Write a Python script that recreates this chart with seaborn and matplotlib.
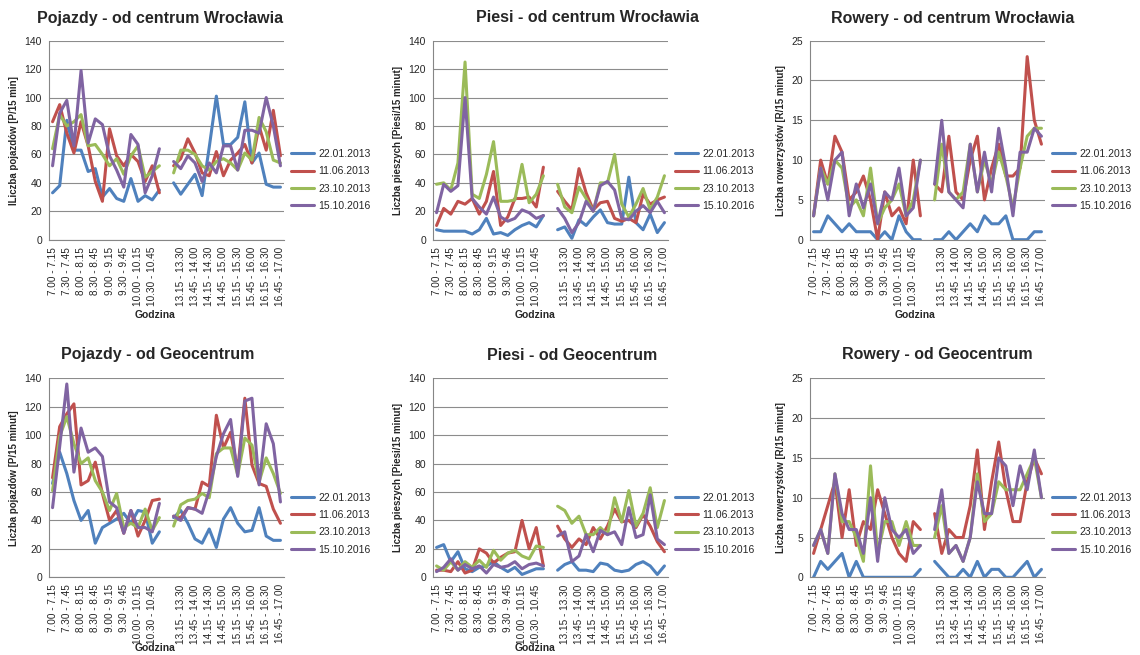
import numpy as np
import pandas as pd
import matplotlib
matplotlib.use('Agg')
import matplotlib.pyplot as plt
import seaborn as sns

daty = ['22.01.2013', '11.06.2013', '23.10.2013', '15.10.2016']
kolory = ['#4F81BD', '#C0504D', '#9BBB59', '#8064A2']

godz_rano = ['7.00 - 7.15', '7.15 - 7.30', '7.30 - 7.45', '7.45 - 8.00',
             '8.00 - 8.15', '8.15 - 8.30', '8.30 - 8.45', '8.45 - 9.00',
             '9.00 - 9.15', '9.15 - 9.30', '9.30 - 9.45', '9.45 - 10.00',
             '10.00 - 10.15', '10.15 - 10.30', '10.30 - 10.45', '10.45 - 11.00']
godz_popo = ['13.00 - 13.15', '13.15 - 13.30', '13.30 - 13.45', '13.45 - 14.00',
             '14.00 - 14.15', '14.15 - 14.30', '14.30 - 14.45', '14.45 - 15.00',
             '15.00 - 15.15', '15.15 - 15.30', '15.30 - 15.45', '15.45 - 16.00',
             '16.00 - 16.15', '16.15 - 16.30', '16.30 - 16.45', '16.45 - 17.00']

# pojazdy - od centrum (rano 16 + popoludnie 16)
poj_c_2201 = [33, 38, 84, 63, 63, 48, 50, 30, 36, 29, 27, 43, 27, 31, 28, 35,
              40, 32, 39, 46, 31, 65, 101, 67, 67, 72, 97, 54, 61, 39, 37, 37]
poj_c_1106 = [83, 95, 75, 61, 83, 66, 41, 27, 78, 59, 52, 60, 55, 41, 52, 33,
              52, 57, 71, 61, 47, 45, 62, 45, 56, 61, 67, 54, 80, 63, 91, 59]
poj_c_2310 = [64, 88, 80, 83, 88, 66, 67, 60, 52, 57, 46, 59, 66, 44, 48, 52,
              47, 63, 63, 60, 52, 49, 55, 57, 54, 49, 61, 56, 86, 76, 56, 54]
poj_c_1510 = [52, 89, 98, 66, 119, 68, 85, 81, 59, 49, 37, 74, 67, 33, 45, 64,
              55, 50, 59, 54, 41, 54, 47, 66, 66, 49, 77, 77, 75, 100, 80, 52]

# piesi - od centrum
pie_c_2201 = [7, 6, 6, 6, 6, 4, 7, 15, 4, 5, 3, 7, 10, 12, 9, 17,
              7, 9, 1, 14, 10, 16, 21, 12, 11, 11, 44, 12, 7, 18, 5, 12]
pie_c_1106 = [10, 22, 18, 27, 25, 29, 18, 27, 48, 10, 16, 29, 29, 30, 23, 51,
              34, 27, 21, 50, 33, 21, 26, 27, 15, 13, 15, 12, 32, 25, 28, 30]
pie_c_2310 = [39, 40, 35, 54, 125, 32, 29, 46, 69, 27, 27, 28, 53, 26, 32, 45,
              39, 23, 19, 37, 29, 20, 40, 40, 60, 25, 16, 25, 36, 21, 30, 45]
pie_c_1510 = [19, 39, 34, 38, 100, 29, 23, 18, 30, 16, 13, 15, 21, 19, 15, 17,
              22, 15, 5, 12, 27, 20, 38, 41, 35, 15, 14, 20, 24, 19, 27, 19]

# rowery - od centrum
row_c_2201 = [1, 1, 3, 2, 1, 2, 1, 1, 1, 0, 1, 0, 3, 1, 0, 0,
              0, 0, 1, 0, 1, 2, 1, 3, 2, 2, 3, 0, 0, 0, 1, 1]
row_c_1106 = [3, 10, 7, 13, 11, 5, 6, 8, 5, 0, 6, 3, 4, 2, 10, 3,
              7, 6, 13, 6, 5, 10, 13, 5, 9, 12, 8, 8, 9, 23, 15, 12]
row_c_2310 = [3, 9, 7, 10, 9, 4, 5, 3, 9, 2, 4, 5, 7, 3, 5, 10,
              5, 12, 6, 5, 6, 12, 6, 10, 7, 11, 8, 4, 9, 13, 14, 14]
row_c_1510 = [3, 9, 5, 10, 11, 3, 7, 4, 7, 2, 6, 5, 9, 3, 4, 10,
              7, 15, 6, 5, 4, 12, 6, 11, 6, 14, 9, 3, 11, 11, 14, 13]

# pojazdy - od Geocentrum
poj_g_2201 = [66, 88, 73, 54, 40, 47, 24, 35, 38, 41, 45, 38, 47, 46, 24, 32,
              42, 47, 38, 27, 24, 34, 21, 41, 49, 38, 32, 33, 49, 29, 26, 26]
poj_g_1106 = [70, 106, 115, 122, 65, 68, 81, 59, 40, 47, 31, 47, 29, 40, 54, 55,
              43, 42, 49, 48, 67, 64, 114, 91, 102, 75, 126, 79, 66, 64, 48, 38]
poj_g_2310 = [61, 99, 113, 94, 80, 84, 68, 60, 47, 59, 35, 38, 35, 48, 33, 42,
              36, 51, 54, 55, 59, 56, 87, 91, 91, 72, 98, 93, 67, 84, 73, 59]
poj_g_1510 = [49, 92, 136, 74, 105, 88, 91, 85, 53, 49, 31, 47, 35, 35, 32, 52,
              43, 40, 49, 48, 45, 61, 85, 101, 111, 71, 124, 126, 65, 108, 94, 53]

# piesi - od Geocentrum
pie_g_2201 = [21, 23, 11, 18, 6, 4, 7, 8, 11, 7, 4, 7, 2, 4, 6, 6,
              5, 9, 11, 5, 5, 4, 10, 9, 5, 4, 5, 9, 11, 8, 2, 8]
pie_g_1106 = [5, 5, 4, 11, 3, 5, 20, 17, 10, 14, 17, 18, 40, 20, 35, 8,
              36, 27, 21, 27, 23, 35, 27, 36, 48, 39, 40, 35, 44, 36, 25, 18]
pie_g_2310 = [8, 5, 11, 5, 11, 7, 12, 7, 19, 12, 17, 19, 15, 13, 22, 21,
              50, 47, 38, 43, 30, 30, 35, 30, 56, 39, 61, 36, 45, 63, 35, 54]
pie_g_1510 = [4, 7, 13, 5, 9, 6, 8, 3, 9, 7, 8, 11, 6, 9, 10, 8,
              29, 32, 11, 15, 30, 18, 33, 30, 32, 23, 49, 28, 30, 58, 27, 23]

# rowery - od Geocentrum
row_g_2201 = [0, 2, 1, 2, 3, 0, 2, 0, 0, 0, 0, 0, 0, 0, 0, 1,
              2, 1, 0, 0, 1, 0, 2, 0, 1, 1, 0, 0, 1, 2, 0, 1]
row_g_1106 = [3, 6, 9, 12, 5, 11, 4, 7, 6, 11, 8, 5, 3, 2, 7, 6,
              8, 3, 6, 5, 5, 9, 16, 6, 12, 17, 11, 7, 7, 12, 15, 13]
row_g_2310 = [4, 6, 3, 13, 7, 7, 5, 2, 14, 3, 7, 7, 4, 7, 4, 4,
              5, 9, 3, 4, 2, 5, 13, 7, 8, 12, 11, 11, 11, 13, 15, 10]
row_g_1510 = [4, 6, 3, 13, 8, 6, 6, 3, 10, 2, 10, 6, 5, 6, 3, 4,
              6, 11, 3, 4, 2, 5, 12, 8, 8, 15, 14, 9, 14, 11, 16, 10]

W, H = 1140, 655
sns.set_style('white')
plt.rcParams['font.family'] = ['Liberation Sans', 'DejaVu Sans']

fig = plt.figure(figsize=(W / 100, H / 100), dpi=100)

# pozycje kategorii: rano 0..15, przerwa 16, popoludnie 17..32
pozycje = list(range(16)) + list(range(17, 33))
tick_pos = list(range(0, 33, 2))
tick_lab = godz_rano[0::2] + [''] + godz_popo[1::2]


def rysuj(ax, serie, ylab, ymax, ystep, leg_y):
    rows = []
    for d, vals in zip(daty, serie):
        for p, v in zip(pozycje, vals):
            rows.append({'x': p, 'y': v, 'data': d, 'czesc': 0 if p < 16 else 1})
    df = pd.DataFrame(rows)
    sns.lineplot(data=df, x='x', y='y', hue='data', units='czesc', estimator=None,
                 palette=dict(zip(daty, kolory)), hue_order=daty, lw=2.2, ax=ax)
    ax.set_xlim(-0.5, 32.5)
    ax.set_ylim(0, ymax)
    ax.set_yticks(np.arange(0, ymax + 0.1, ystep))
    ax.set_xticks(tick_pos)
    ax.set_xticklabels(tick_lab, rotation=90, fontsize=7.2)
    ax.tick_params(axis='y', labelsize=7.5, length=3, color='#868686', pad=2)
    ax.tick_params(axis='x', length=3, color='#868686', pad=2)
    ax.grid(axis='y', color='#8c8c8c', lw=0.8)
    ax.set_axisbelow(True)
    for s in ['top', 'right']:
        ax.spines[s].set_visible(False)
    for s in ['left', 'bottom']:
        ax.spines[s].set_color('#868686')
        ax.spines[s].set_linewidth(0.8)
    ax.set_xlabel('')
    ax.set_ylabel(ylab, fontsize=7, fontweight='bold', labelpad=4)
    sns.move_legend(ax, 'center left', bbox_to_anchor=(0.99, leg_y), frameon=False,
                    title=None, fontsize=7.5, handlelength=2.2, labelspacing=0.7,
                    handletextpad=0.45)


lefts = [49, 433, 810]
aw = 235
row_top = [40.7, 378.3]
ah = 199

panele = [
    ([poj_c_2201, poj_c_1106, poj_c_2310, poj_c_1510], 'ILiczba pojazdów [P/15 min]', 140, 20),
    ([pie_c_2201, pie_c_1106, pie_c_2310, pie_c_1510], 'Liczba pieszych [Piesi/15 minut]', 140, 20),
    ([row_c_2201, row_c_1106, row_c_2310, row_c_1510], 'Liczba rowerzystów [R/15 minut]', 25, 5),
    ([poj_g_2201, poj_g_1106, poj_g_2310, poj_g_1510], 'Liczba pojazdów [P/15 minut]', 140, 20),
    ([pie_g_2201, pie_g_1106, pie_g_2310, pie_g_1510], 'Liczba pieszych [Piesi/15 minut]', 140, 20),
    ([row_g_2201, row_g_1106, row_g_2310, row_g_1510], 'Liczba rowerzystów [R/15 minut]', 25, 5),
]
tytuly = ['Pojazdy - od centrum Wrocławia', 'Piesi - od centrum Wrocławia',
          'Rowery - od centrum Wrocławia', 'Pojazdy - od Geocentrum',
          'Piesi - od Geocentrum', 'Rowery - od Geocentrum']
tyt_x = [160, 588, 953, 158, 572, 937]
tyt_y = [18, 18, 18, 355, 355, 355]
leg_y = [0.30, 0.30, 0.30, 0.27, 0.27, 0.27]

for i, (serie, ylab, ymax, ystep) in enumerate(panele):
    r, c = divmod(i, 3)
    top = row_top[r]
    ax = fig.add_axes([lefts[c] / W, 1 - (top + ah) / H, aw / W, ah / H])
    rysuj(ax, serie, ylab, ymax, ystep, leg_y[i])
    fig.text(tyt_x[i] / W, 1 - tyt_y[i] / H, tytuly[i], ha='center', va='center',
             fontsize=11.5, fontweight='bold')

# podpisy osi X
for x, y in [(155, 315), (535, 315), (915, 315), (155, 648), (535, 648)]:
    fig.text(x / W, 1 - y / H, 'Godzina', ha='center', va='center',
             fontsize=7.5, fontweight='bold')

fig.savefig('out.png', dpi=100)
